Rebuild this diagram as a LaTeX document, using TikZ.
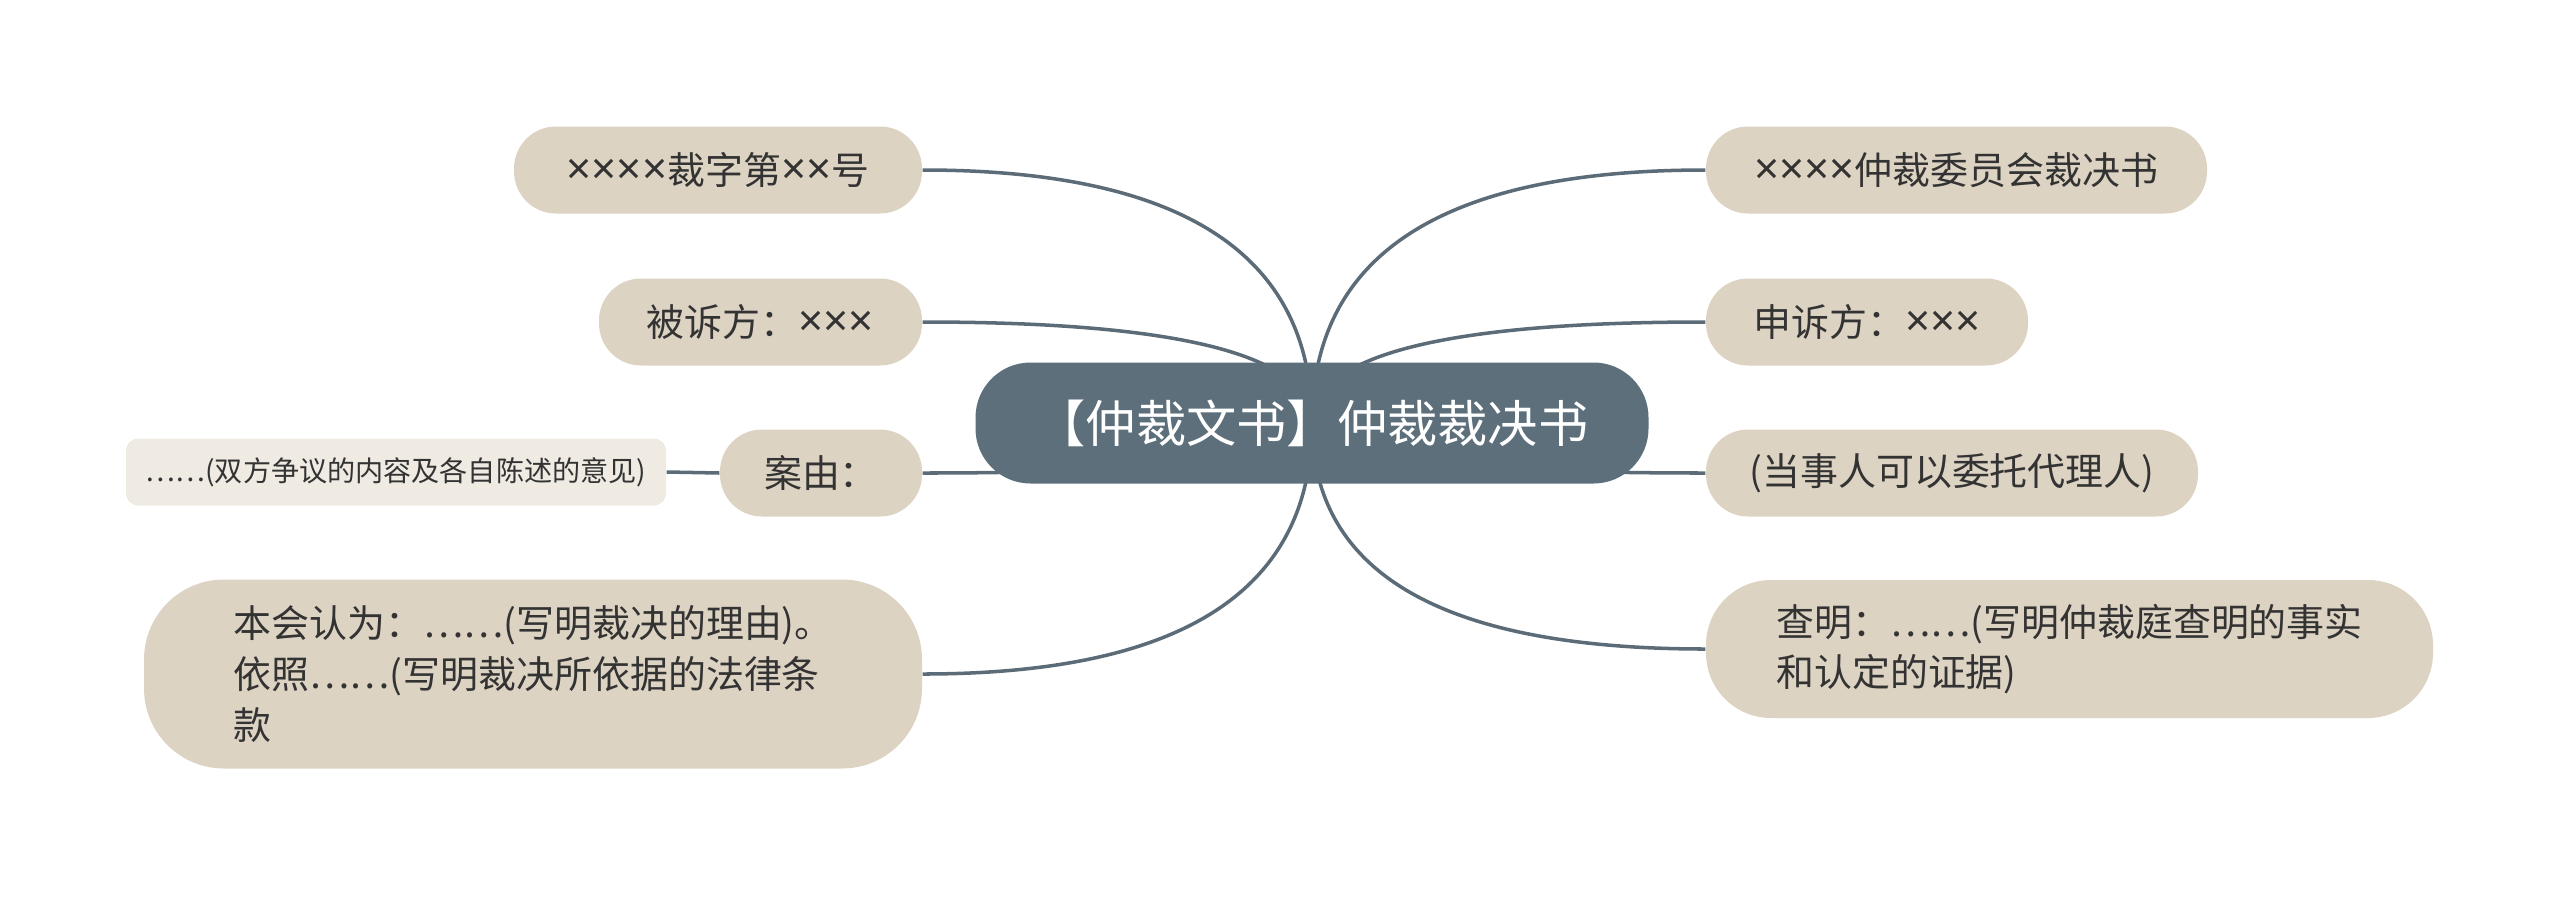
\documentclass[tikz,border=0pt]{standalone}
\usepackage{fontspec}
\setmainfont{Noto Sans CJK SC}
\newfontfamily\latinfont{Noto Sans}
\newcommand{\tms}{{\latinfont\fontsize{12.5}{14.4}\selectfont ×}}
\usetikzlibrary{positioning,calc,backgrounds}

\definecolor{rootfill}{HTML}{5C6F7B}
\definecolor{leaffill}{HTML}{DDD3C3}
\definecolor{notefill}{HTML}{EFEBE2}
\definecolor{linkcol}{HTML}{5B6B77}
\definecolor{textcol}{HTML}{333333}

\tikzset{
  rootbox/.style={fill=rootfill, text=white, rounded corners=0.55cm, minimum width=6.73cm, minimum height=1.21cm, inner sep=0pt, font=\fontsize{14.3}{17}\selectfont},
  leafbox/.style={fill=leaffill, text=textcol, rounded corners=0.42cm, minimum height=0.87cm, inner sep=0pt, font=\fontsize{10.8}{14.4}\selectfont},
  notebox/.style={fill=notefill, text=textcol, rounded corners=0.12cm, minimum height=0.67cm, inner sep=0pt, font=\fontsize{8}{10}\selectfont},
  branch/.style={draw=linkcol, line width=1pt},
}

\begin{document}
\begin{tikzpicture}
    \useasboundingbox (0,0) rectangle (25.6,-8.97);

    \node[rootbox] (root) at (13.12,-4.23) {【仲裁文书】仲裁裁决书};

    % left side
    \node[leafbox, minimum width=4.08cm] (num) at (7.18,-1.70) {\tms\tms\tms\tms 裁字第\tms\tms 号};
    \node[leafbox, minimum width=3.23cm] (defend) at (7.605,-3.22) {被诉方：\tms\tms\tms};
    \node[leafbox, minimum width=2.02cm] (cause) at (8.21,-4.73) {案由：};
    \node[notebox, minimum width=5.40cm] (detail) at (3.96,-4.72) {……(双方争议的内容及各自陈述的意见)};
    \node[leafbox, minimum width=7.78cm, minimum height=1.89cm, rounded corners=0.8cm, align=left] (opinion) at (5.33,-6.74)
      {本会认为：……(写明裁决的理由)。\\依照……(写明裁决所依据的法律条\\款};

    % right side
    \node[leafbox, minimum width=5.01cm] (title) at (19.565,-1.70) {\tms\tms\tms\tms 仲裁委员会裁决书};
    \node[leafbox, minimum width=3.22cm] (plaintiff) at (18.67,-3.22) {申诉方：\tms\tms\tms};
    \node[leafbox, minimum width=4.92cm] (agent) at (19.52,-4.73) {(当事人可以委托代理人)};
    \node[leafbox, minimum width=7.27cm, minimum height=1.38cm, rounded corners=0.65cm, align=left] (facts) at (20.695,-6.49)
      {查明：……(写明仲裁庭查明的事实\\和认定的证据)};

    \begin{pgfonlayer}{background}
      \foreach \leaf/\side in {num/east, defend/east, cause/east, opinion/east, title/west, plaintiff/west, agent/west, facts/west}
        \draw[branch] (root.center) .. controls ($(root.center)!0.667!(root.center |- \leaf.\side)$) and ($(\leaf.\side)!0.667!(root.center |- \leaf.\side)$) .. (\leaf.\side);
      \draw[branch] (cause.west) -- (detail.east);
    \end{pgfonlayer}
\end{tikzpicture}
\end{document}
